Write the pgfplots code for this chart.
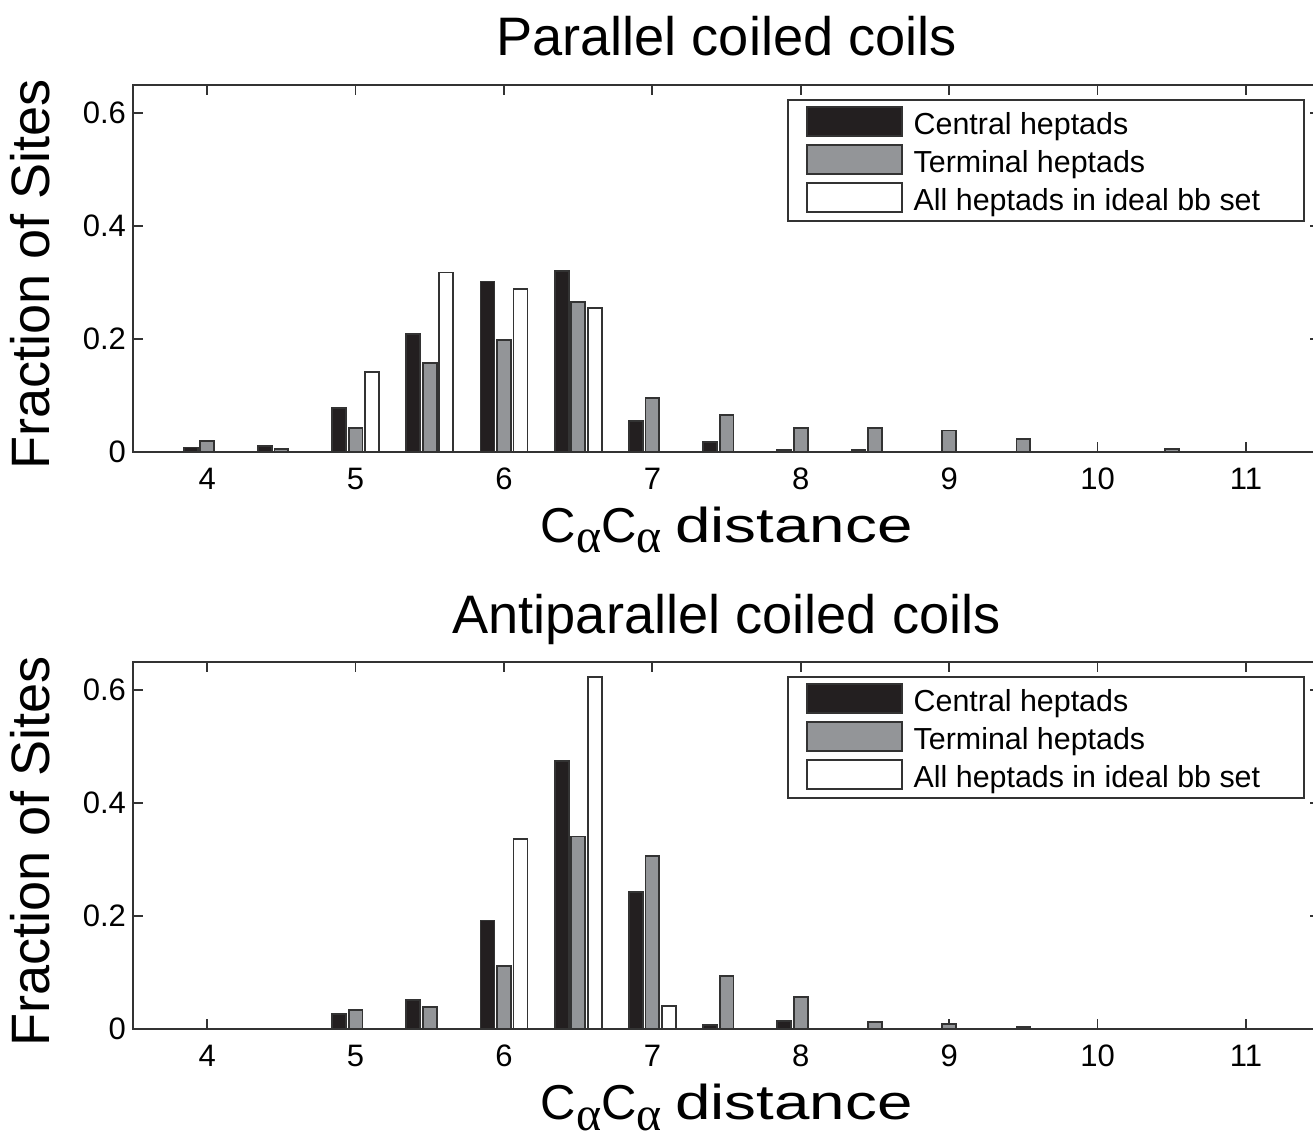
\documentclass[border=0pt]{standalone}
\usepackage{fontspec}
\setmainfont{Liberation Sans}
\newfontfamily\greekfont{Liberation Serif}
\usepackage{graphicx}
\usepackage{pgfplots}
\pgfplotsset{compat=1.18}
\definecolor{cblack}{HTML}{231F20}
\definecolor{cgray}{HTML}{939598}
\definecolor{cedge}{HTML}{333333}
\newcommand{\al}{\raisebox{-5pt}{\greekfont\fontsize{24}{24}\selectfont α}}
\pgfplotsset{
  mystyle/.style={
    scale only axis,
    width=593.6pt, height=183.5pt,
    xmin=3.5, xmax=11.5, ymin=0, ymax=0.65,
    xtick={4,5,6,7,8,9,10,11},
    ytick={0,0.2,0.4,0.6},
    yticklabels={0,0.2,0.4,0.6},
    tick align=inside,
    major tick length=5pt,
    tick style={cedge, line width=0.9pt},
    axis line style={cedge, line width=0.9pt},
    /pgf/number format/assume math mode=true,
    ticklabel style={font=\fontsize{15.5}{18}\selectfont},
    xticklabel style={yshift=-4.5pt},
    every axis title/.style={at={(axis description cs:0.5,1)}, anchor=base, yshift=14.5pt, font=\fontsize{27.1}{30}\selectfont},
    every axis x label/.style={at={(axis description cs:0.5,0)}, anchor=base, yshift=-45.5pt, font=\fontsize{24.5}{30}\selectfont},
    every axis y label/.style={at={(axis description cs:0,0.5)}, xshift=-41.5pt, yshift=-3pt, rotate=90, anchor=base, font=\fontsize{27.05}{30}\selectfont},
    xlabel={C\al C\al\ \scalebox{1.3}[1]{distance}},
    ylabel={Fraction of Sites},
    legend style={at={(axis description cs:1,1)}, anchor=north east, xshift=-7.5pt, yshift=-7pt,
      draw=cedge, line width=0.9pt, inner xsep=9.3pt, inner ysep=2.5pt,
      font=\fontsize{15.2}{17}\selectfont,
      nodes={inner sep=0pt, text height=15pt, text depth=2.5pt},
      row sep=1.5pt, column sep=5.5pt},
    legend cell align=left,
    legend image code/.code={\draw[##1, line width=0.9pt] (0pt,-6.75pt) rectangle (47.3pt,7.75pt);},
  },
  cen/.style={ybar, bar width=0.094, bar shift=-0.111, fill=cblack, draw=cedge, line width=0.9pt},
  ter/.style={ybar, bar width=0.094, bar shift=0, fill=cgray, draw=cedge, line width=0.9pt},
  ide/.style={ybar, bar width=0.094, bar shift=0.111, fill=white, draw=cedge, line width=0.9pt},
}
\begin{document}
\begin{tikzpicture}
\useasboundingbox (-66.5pt,-346pt) rectangle (590pt,226pt);
\begin{axis}[mystyle, title={Parallel coiled coils}]
\addplot[cen] coordinates {(4,0.008) (4.5,0.011) (5,0.078) (5.5,0.209) (6,0.302) (6.5,0.321) (7,0.055) (7.5,0.017) (8,0.004) (8.5,0.004)};
\addplot[ter] coordinates {(4,0.019) (4.5,0.005) (5,0.043) (5.5,0.157) (6,0.199) (6.5,0.265) (7,0.095) (7.5,0.066) (8,0.043) (8.5,0.043) (9,0.038) (9.5,0.023) (10.5,0.005)};
\addplot[ide] coordinates {(5,0.142) (5.5,0.318) (6,0.288) (6.5,0.255)};
\legend{\makebox[186pt][l]{Central heptads}, Terminal heptads, All heptads in ideal bb set}
\end{axis}
\begin{axis}[mystyle, at={(0pt,-288.5pt)}, title={Antiparallel coiled coils}]
\addplot[cen] coordinates {(5,0.027) (5.5,0.052) (6,0.192) (6.5,0.474) (7,0.242) (7.5,0.007) (8,0.014)};
\addplot[ter] coordinates {(5,0.034) (5.5,0.039) (6,0.112) (6.5,0.341) (7,0.306) (7.5,0.094) (8,0.056) (8.5,0.013) (9,0.009) (9.5,0.004)};
\addplot[ide] coordinates {(6,0.337) (6.5,0.623) (7,0.041)};
\legend{\makebox[186pt][l]{Central heptads}, Terminal heptads, All heptads in ideal bb set}
\end{axis}
\end{tikzpicture}
\end{document}
